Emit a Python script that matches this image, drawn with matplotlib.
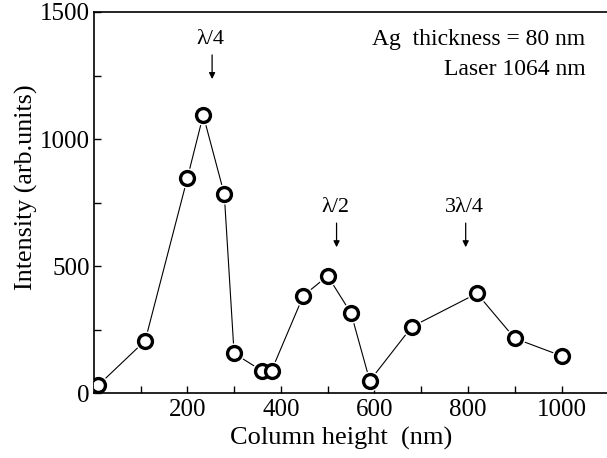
import matplotlib.pyplot as plt
from matplotlib.ticker import MultipleLocator

plt.rcParams['font.family'] = ['Liberation Serif', 'DejaVu Serif']

# data
height = [10, 110, 200, 234, 279, 300, 359, 380, 448, 500, 550, 590, 680, 819, 900, 1000]
intensity = [31, 206, 845, 1094, 783, 156, 88, 88, 383, 461, 314, 48, 261, 392, 215, 146]

marks = ['λ/4', 'λ/2', '3λ/4']
mark_x = [253, 519, 795]
mark_top = [1331, 669, 669]

fig = plt.figure(figsize=(6.07, 4.58), dpi=100)
ax = fig.add_axes([0.1544, 0.1419, 0.8456, 0.8319])

ax.plot(height, intensity, color='black', lw=0.8, zorder=1)
ax.plot(height, intensity, ls='none', marker='o', ms=13.5, mfc='white', mec='white', zorder=2)
ax.plot(height, intensity, ls='none', marker='o', ms=10, mfc='white', mec='black', mew=2.4, zorder=3)

for lab, mx, mt in zip(marks, mark_x, mark_top):
    ax.annotate('', xy=(mx, mt - 95), xytext=(mx, mt),
                arrowprops=dict(arrowstyle='-|>', color='black', lw=0.9,
                                mutation_scale=9, shrinkA=0, shrinkB=0))
    ax.text(mx - 3, mt + 60, lab, ha='center', va='center', fontsize=16)

ax.text(0.958, 0.929, 'Ag  thickness = 80 nm', transform=ax.transAxes,
        ha='right', va='center', fontsize=17)
ax.text(0.958, 0.850, 'Laser 1064 nm', transform=ax.transAxes,
        ha='right', va='center', fontsize=17)

ax.set_xlim(0, 1097)
ax.set_ylim(0, 1500)
ax.xaxis.set_minor_locator(MultipleLocator(100))
ax.yaxis.set_major_locator(MultipleLocator(500))
ax.yaxis.set_minor_locator(MultipleLocator(250))
ax.set_xticks([200, 400, 600, 800, 1000])
ax.tick_params(which='both', direction='in', length=5, width=1, labelsize=18)
ax.tick_params(axis='x', pad=4)
ax.tick_params(axis='y', pad=3)
ax.spines['right'].set_visible(False)
for s in ['left', 'bottom', 'top']:
    ax.spines[s].set_linewidth(1.2)

ax.set_xlabel('Column height  (nm)', fontsize=19)
ax.set_ylabel('Intensity (arb.units)', fontsize=18.7)
ax.xaxis.set_label_coords(0.482, -0.088)
ax.yaxis.set_label_coords(-0.108, 0.54)

fig.savefig('out.png', dpi=100)
